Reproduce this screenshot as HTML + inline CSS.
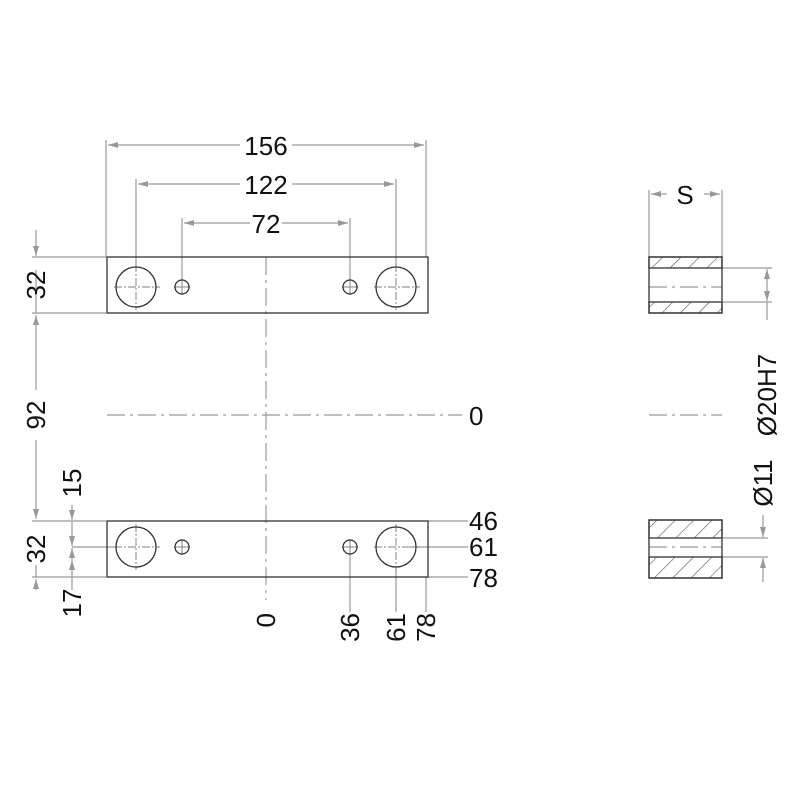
<!DOCTYPE html>
<html><head><meta charset="utf-8"><style>html,body{margin:0;padding:0;background:#fff}</style></head>
<body>
<svg width="800" height="800" viewBox="0 0 800 800" xmlns="http://www.w3.org/2000/svg" font-family="Liberation Sans, sans-serif" font-size="26" fill="#111">
<defs>
<marker id="a" viewBox="0 0 10 6" refX="10" refY="3" markerWidth="10" markerHeight="6" markerUnits="userSpaceOnUse" orient="auto"><path d="M0,0L10,3L0,6z" fill="#999"/></marker>
<pattern id="h" patternUnits="userSpaceOnUse" width="13" height="13" patternTransform="rotate(45)"><line x1="0" y1="0" x2="0" y2="13" stroke="#555" stroke-width="1.2"/></pattern>
</defs>
<g stroke="#999" stroke-width="1.2" fill="none">
<line x1="106" y1="257" x2="106" y2="140"/><line x1="426" y1="257" x2="426" y2="140"/>
<line x1="136" y1="267" x2="136" y2="179"/><line x1="396" y1="267" x2="396" y2="179"/>
<line x1="182" y1="280" x2="182" y2="218"/><line x1="350" y1="280" x2="350" y2="218"/>
<line x1="240" y1="145" x2="108" y2="145" marker-end="url(#a)"/><line x1="292" y1="145" x2="424" y2="145" marker-end="url(#a)"/>
<line x1="240" y1="184" x2="138" y2="184" marker-end="url(#a)"/><line x1="292" y1="184" x2="394" y2="184" marker-end="url(#a)"/>
<line x1="250" y1="223" x2="184" y2="223" marker-end="url(#a)"/><line x1="282" y1="223" x2="348" y2="223" marker-end="url(#a)"/>
<line x1="32" y1="257" x2="106" y2="257"/><line x1="32" y1="313" x2="106" y2="313"/>
<line x1="32" y1="521" x2="106" y2="521"/><line x1="32" y1="577" x2="106" y2="577"/>
<line x1="72" y1="547" x2="116" y2="547"/>
<line x1="36" y1="230" x2="36" y2="256" marker-end="url(#a)"/>
<line x1="36" y1="270" x2="36" y2="314"/>
<line x1="36" y1="390" x2="36" y2="315" marker-end="url(#a)"/><line x1="36" y1="440" x2="36" y2="519" marker-end="url(#a)"/>
<line x1="36" y1="590" x2="36" y2="579" marker-end="url(#a)"/><line x1="36" y1="565" x2="36" y2="577"/>
<line x1="72" y1="505" x2="72" y2="520" marker-end="url(#a)"/><line x1="72" y1="521" x2="72" y2="546" marker-end="url(#a)"/>
<line x1="72" y1="578" x2="72" y2="560" marker-end="url(#a)"/><line x1="72" y1="560" x2="72" y2="548" marker-end="url(#a)"/>
<line x1="72" y1="578" x2="72" y2="590"/>
<line x1="428" y1="521" x2="468" y2="521"/><line x1="410" y1="547" x2="468" y2="547"/><line x1="428" y1="577" x2="468" y2="577"/>
<line x1="350" y1="554" x2="350" y2="612"/><line x1="396" y1="567" x2="396" y2="612"/><line x1="426" y1="577" x2="426" y2="612"/>
<line x1="266" y1="257" x2="266" y2="600" stroke-dasharray="18,5,3,5"/>
<line x1="107" y1="415" x2="462" y2="415" stroke-dasharray="18,5,3,5"/>
<line x1="649" y1="415" x2="722" y2="415" stroke-dasharray="18,5,3,5"/>
<line x1="649" y1="287" x2="722" y2="287" stroke-dasharray="18,5,3,5"/>
<line x1="649" y1="547" x2="722" y2="547" stroke-dasharray="18,5,3,5"/>
<g stroke-dasharray="8,2,2,2">
<line x1="114" y1="287" x2="160" y2="287"/><line x1="136" y1="264" x2="136" y2="310"/>
<line x1="374" y1="287" x2="420" y2="287"/><line x1="396" y1="264" x2="396" y2="310"/>
<line x1="114" y1="547" x2="160" y2="547"/><line x1="136" y1="524" x2="136" y2="570"/>
<line x1="374" y1="547" x2="420" y2="547"/><line x1="396" y1="524" x2="396" y2="570"/>
</g>
<line x1="174" y1="287" x2="190" y2="287"/><line x1="182" y1="279" x2="182" y2="295"/>
<line x1="342" y1="287" x2="358" y2="287"/><line x1="350" y1="279" x2="350" y2="295"/>
<line x1="174" y1="547" x2="190" y2="547"/><line x1="182" y1="539" x2="182" y2="555"/>
<line x1="342" y1="547" x2="358" y2="547"/><line x1="350" y1="539" x2="350" y2="555"/>
<line x1="649" y1="257" x2="649" y2="190"/><line x1="722" y1="257" x2="722" y2="190"/>
<line x1="667" y1="194" x2="651" y2="194" marker-end="url(#a)"/><line x1="704" y1="194" x2="720" y2="194" marker-end="url(#a)"/>
<line x1="722" y1="268" x2="772" y2="268"/><line x1="722" y1="302" x2="772" y2="302"/>
<line x1="767" y1="285" x2="767" y2="269" marker-end="url(#a)"/><line x1="767" y1="285" x2="767" y2="301" marker-end="url(#a)"/>
<line x1="767" y1="302" x2="767" y2="320"/>
<line x1="722" y1="538" x2="768" y2="538"/><line x1="722" y1="557" x2="768" y2="557"/>
<line x1="763" y1="515" x2="763" y2="537" marker-end="url(#a)"/><line x1="763" y1="582" x2="763" y2="558" marker-end="url(#a)"/>
</g>
<g stroke="#333" stroke-width="1.3" fill="none">
<rect x="107" y="257" width="321" height="56"/>
<rect x="107" y="521" width="321" height="56"/>
<circle cx="136" cy="287" r="20"/><circle cx="396" cy="287" r="20"/>
<circle cx="182" cy="287" r="7"/><circle cx="350" cy="287" r="7"/>
<circle cx="136" cy="547" r="20"/><circle cx="396" cy="547" r="20"/>
<circle cx="182" cy="547" r="7"/><circle cx="350" cy="547" r="7"/>
<rect x="649" y="257" width="73" height="11" fill="url(#h)"/>
<rect x="649" y="302" width="73" height="11" fill="url(#h)"/>
<rect x="649" y="257" width="73" height="56"/>
<rect x="649" y="520" width="73" height="18" fill="url(#h)"/>
<rect x="649" y="557" width="73" height="21" fill="url(#h)"/>
<rect x="649" y="520" width="73" height="58"/>
</g>
<g text-anchor="middle">
<text x="266" y="155">156</text>
<text x="266" y="194">122</text>
<text x="266" y="233">72</text>
<text x="685" y="204">S</text>
</g>
<text x="469" y="425">0</text>
<text x="469" y="530">46</text>
<text x="469" y="556">61</text>
<text x="469" y="587">78</text>
<g text-anchor="middle">
<text transform="translate(45,285) rotate(-90)">32</text>
<text transform="translate(45,415) rotate(-90)">92</text>
<text transform="translate(45,549) rotate(-90)">32</text>
<text transform="translate(81,483) rotate(-90)">15</text>
<text transform="translate(81,603) rotate(-90)">17</text>
<text transform="translate(776,395) rotate(-90)">Ø20H7</text>
<text transform="translate(772,483) rotate(-90)">Ø11</text>
</g>
<g text-anchor="end">
<text transform="translate(275,613) rotate(-90)">0</text>
<text transform="translate(359,613) rotate(-90)">36</text>
<text transform="translate(405,613) rotate(-90)">61</text>
<text transform="translate(435,613) rotate(-90)">78</text>
</g>
</svg>
</body></html>
